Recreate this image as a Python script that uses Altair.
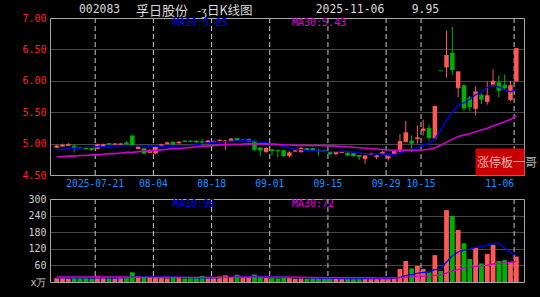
import altair as alt
import pandas as pd

# ---------------- data ----------------
opens = [4.94, 4.96, 4.97, 4.96, 4.94, 4.93, 4.92, 4.92, 4.96, 5.00,
         4.99, 4.99, 5.01, 5.12, 4.92, 4.92, 4.86, 4.85, 4.96, 5.00,
         5.02, 5.01, 5.04, 5.04, 5.04, 5.03, 5.02, 5.03, 5.05, 5.03,
         5.04, 5.08, 5.05, 5.04, 5.04, 4.93, 4.87, 4.90, 4.89, 4.89,
         4.81, 4.88, 4.87, 4.92, 4.92, 4.89, 4.89, 4.87, 4.84, 4.86,
         4.85, 4.84, 4.81, 4.76, 4.83, 4.79, 4.84, 4.77, 4.83, 4.88,
         5.03, 5.04, 5.08, 5.21, 5.24, 5.09, 6.16, 6.22, 6.44, 5.89,
         5.92, 5.73, 5.56, 5.77, 5.67, 5.92, 5.97, 5.93, 5.70, 6.00]
closes = [4.97, 4.98, 4.99, 4.93, 4.93, 4.91, 4.90, 4.99, 4.99, 4.99,
          5.00, 5.00, 4.99, 4.97, 4.95, 4.84, 4.90, 4.95, 4.99, 5.02,
          4.99, 5.03, 5.03, 5.03, 5.02, 5.02, 5.05, 5.04, 5.06, 5.05,
          5.08, 5.05, 5.06, 5.07, 4.90, 4.89, 4.93, 4.88, 4.88, 4.80,
          4.86, 4.89, 4.93, 4.90, 4.89, 4.88, 4.87, 4.83, 4.87, 4.87,
          4.81, 4.80, 4.79, 4.81, 4.85, 4.81, 4.87, 4.80, 4.88, 5.04,
          5.18, 5.00, 5.10, 5.24, 5.09, 5.60, 6.16, 6.41, 6.17, 6.15,
          5.56, 5.58, 5.83, 5.70, 5.77, 6.00, 5.84, 5.88, 5.93, 6.52]
highs = [4.98, 5.00, 5.01, 4.99, 4.95, 4.95, 4.93, 5.00, 5.00, 5.01,
         5.01, 5.01, 5.04, 5.14, 4.96, 4.93, 4.91, 4.96, 5.00, 5.03,
         5.04, 5.04, 5.05, 5.05, 5.05, 5.08, 5.06, 5.05, 5.07, 5.06,
         5.09, 5.09, 5.07, 5.08, 5.05, 4.94, 4.94, 4.91, 4.90, 4.90,
         4.88, 4.90, 4.95, 4.93, 4.93, 4.92, 4.90, 4.88, 4.88, 4.88,
         4.86, 4.85, 4.82, 4.82, 4.86, 4.82, 4.88, 4.81, 4.89, 5.15,
         5.36, 5.13, 5.29, 5.38, 5.30, 5.60, 6.16, 6.80, 6.86, 6.15,
         5.95, 5.76, 5.91, 5.80, 5.99, 6.18, 6.09, 6.10, 6.00, 6.52]
lows = [4.93, 4.95, 4.96, 4.86, 4.91, 4.90, 4.88, 4.91, 4.95, 4.97,
        4.98, 4.98, 4.98, 4.96, 4.91, 4.83, 4.85, 4.83, 4.95, 4.99,
        4.96, 5.00, 5.02, 5.02, 5.01, 4.97, 5.01, 5.02, 5.04, 4.90,
        5.03, 5.04, 5.04, 5.03, 4.88, 4.80, 4.86, 4.81, 4.78, 4.79,
        4.78, 4.87, 4.86, 4.89, 4.88, 4.81, 4.86, 4.82, 4.81, 4.85,
        4.80, 4.79, 4.74, 4.68, 4.82, 4.75, 4.82, 4.73, 4.82, 4.87,
        5.02, 4.86, 5.00, 5.13, 5.05, 5.07, 6.16, 6.05, 6.09, 5.74,
        5.52, 5.52, 5.45, 5.63, 5.62, 5.92, 5.73, 5.86, 5.68, 5.98]
volumes = [14, 15, 13, 16, 14, 15, 13, 22, 16, 14,
           13, 18, 15, 35, 22, 17, 15, 18, 14, 13,
           15, 14, 13, 14, 15, 22, 14, 18, 20, 24,
           15, 26, 14, 16, 27, 22, 15, 14, 13, 15,
           14, 12, 13, 12, 13, 14, 12, 13, 12, 11,
           13, 12, 14, 13, 12, 13, 14, 13, 15, 47,
           76, 49, 58, 47, 35, 97, 40, 260, 239, 188,
           140, 83, 125, 67, 101, 134, 76, 79, 71, 92]
ma10 = [4.90, 4.91, 4.92, 4.93, 4.93, 4.94, 4.94, 4.95, 4.95, 4.958,
        4.961, 4.963, 4.963, 4.967, 4.969, 4.962, 4.962, 4.958, 4.958, 4.961,
        4.960, 4.963, 4.967, 4.973, 4.980, 4.998, 5.013, 5.022, 5.029, 5.032,
        5.041, 5.043, 5.046, 5.050, 5.038, 5.025, 5.013, 4.997, 4.979, 4.954,
        4.932, 4.916, 4.903, 4.886, 4.885, 4.884, 4.878, 4.873, 4.872, 4.879,
        4.874, 4.865, 4.851, 4.842, 4.838, 4.831, 4.831, 4.828, 4.829, 4.846,
        4.883, 4.903, 4.934, 4.977, 5.001, 5.080, 5.209, 5.370, 5.499, 5.610,
        5.648, 5.706, 5.779, 5.825, 5.893, 5.933, 5.901, 5.848, 5.824, 5.861]
ma30 = [4.79, 4.79, 4.80, 4.80, 4.81, 4.81, 4.82, 4.82, 4.83, 4.84,
        4.84, 4.85, 4.86, 4.86, 4.87, 4.88, 4.88, 4.89, 4.90, 4.91,
        4.92, 4.92, 4.93, 4.94, 4.95, 4.96, 4.96, 4.97, 4.98, 4.984,
        4.987, 4.990, 4.992, 4.997, 4.996, 4.995, 4.996, 4.992, 4.989, 4.982,
        4.978, 4.974, 4.972, 4.970, 4.968, 4.969, 4.968, 4.964, 4.960, 4.955,
        4.949, 4.941, 4.933, 4.926, 4.920, 4.913, 4.907, 4.899, 4.893, 4.893,
        4.896, 4.895, 4.896, 4.902, 4.908, 4.932, 4.973, 5.024, 5.067, 5.112,
        5.135, 5.158, 5.188, 5.215, 5.244, 5.281, 5.314, 5.349, 5.384, 5.439]
vol_ma10 = [15, 15, 15, 15, 15, 15, 15, 15, 15, 15.2,
            15.1, 15.4, 15.6, 17.5, 18.3, 18.5, 18.7, 18.3, 18.1, 18.0,
            18.2, 17.8, 17.6, 15.5, 14.8, 15.3, 15.2, 15.2, 15.8, 16.9,
            16.9, 18.1, 18.2, 18.4, 19.6, 19.6, 19.7, 19.3, 18.6, 17.7,
            17.6, 16.2, 16.1, 15.7, 14.3, 13.5, 13.2, 13.1, 13.0, 12.6,
            12.5, 12.5, 12.6, 12.7, 12.6, 12.5, 12.7, 12.7, 13.0, 16.6,
            22.9, 26.6, 31.0, 34.4, 36.7, 45.1, 47.7, 72.4, 94.8, 108.9,
            115.3, 118.7, 125.4, 127.4, 134.0, 137.7, 141.3, 123.2, 106.4, 96.8]
vol_ma30 = [18, 18, 18, 18, 18, 18, 18, 18, 18, 18,
            18, 18, 18, 17, 17, 17, 17, 17, 17, 17,
            17, 17, 17, 17, 17, 17, 17, 17, 17, 16.7,
            16.7, 17.1, 17.1, 17.1, 17.6, 17.8, 17.9, 17.6, 17.5, 17.5,
            17.6, 17.4, 17.3, 16.5, 16.2, 16.1, 16.0, 15.9, 15.8, 15.7,
            15.7, 15.6, 15.6, 15.6, 15.5, 15.2, 15.2, 15.0, 14.9, 15.6,
            17.7, 18.4, 19.9, 20.9, 21.2, 23.7, 24.5, 32.7, 40.3, 46.0,
            50.2, 52.6, 56.3, 58.2, 61.1, 65.1, 67.2, 69.4, 71.4, 74.1]

date_labels = ["2025-07-21", "08-04", "08-18", "09-01", "09-15", "09-29", "10-15", "11-06"]
date_label_index = [7, 17, 27, 37, 47, 57, 63, 79]
price_ticks = [4.5, 5.0, 5.5, 6.0, 6.5, 7.0]
vol_ticks = [0, 60, 120, 180, 240, 300]
header = ["002083", "孚日股份", "-ʒ日K线图", "2025-11-06", "9.95"]
ma_texts = ["MA10:5.85", "MA30:5.43", "MA10:95", "MA30:72"]
watermark = "涨停板一哥"

# ---------------- styling ----------------
MONO = "DejaVu Sans Mono"
CJK = "Noto Sans CJK SC"
RED = "#FF5656"
GREEN = "#00B000"
BLUE = "#0000FF"
MAG = "#D000D0"
W, H = 474, 264
PRICE_RANGE = [157, 0]
VOL_RANGE = [264, 181]

n = len(opens)
df = pd.DataFrame({
    "i": list(range(n)), "open": opens, "close": closes, "high": highs, "low": lows,
    "vol": volumes, "ma10": ma10, "ma30": ma30, "vma10": vol_ma10, "vma30": vol_ma30,
    "dir": ["up" if c > o else "down" for o, c in zip(opens, closes)],
})

color = alt.Color("dir:N", scale=alt.Scale(domain=["up", "down"], range=[RED, GREEN]), legend=None)
xscale = alt.Scale(domain=[-0.29, 79.46], nice=False, zero=False)
X = alt.X("i:Q", scale=xscale, axis=None)

pscale = alt.Scale(domain=[4.5, 7.0], range=PRICE_RANGE, nice=False, zero=False)
paxis = alt.Axis(values=price_ticks, format=".2f", labelColor="#FF2020", labelFont=MONO,
                 labelFontSize=10, tickSize=0, labelPadding=4, domain=False, grid=True,
                 gridColor="#8C8C8C", gridDash=[1, 1], orient="left")


def PY(f):
    return alt.Y(f + ":Q", scale=pscale, axis=paxis, title=None)


vscale = alt.Scale(domain=[0, 300], range=VOL_RANGE, nice=False, zero=True)
vaxis = alt.Axis(values=vol_ticks, labelExpr="datum.value == 0 ? 'x万' : datum.label",
                 labelColor="#D0D0D0", labelFont=MONO, labelFontSize=10, tickSize=0,
                 labelPadding=4, domain=False, grid=True, gridColor="#8C8C8C",
                 gridDash=[1, 1], orient="left")


def VY(f):
    return alt.Y(f + ":Q", scale=vscale, axis=vaxis, title=None)


base = alt.Chart(df)
wick = base.mark_rule(strokeWidth=1).encode(x=X, y=PY("low"), y2="high", color=color)
body = base.mark_bar(size=4.5).encode(x=X, y=PY("open"), y2="close", color=color)
flat = base.mark_tick(thickness=1.2, size=4.5, orient="horizontal").encode(x=X, y=PY("open"), color=color)
l10 = base.mark_line(color=BLUE, strokeWidth=1.3).encode(x=X, y=PY("ma10"))
l30 = base.mark_line(color=MAG, strokeWidth=1.6).encode(x=X, y=PY("ma30"))
price = alt.layer(wick, body, flat, l10, l30)

vbar = base.mark_bar(size=4.8).encode(x=X, y=VY("vol"), y2=alt.datum(0), color=color)
v10 = base.mark_line(color=BLUE, strokeWidth=1.3).encode(x=X, y=VY("vma10"))
v30 = base.mark_line(color=MAG, strokeWidth=1.3).encode(x=X, y=VY("vma30"))
volume = alt.layer(vbar, v10, v30)

# vertical dashed date grid lines (just left of each labelled candle)
grid_df = pd.DataFrame({"g": [k - 0.38 for k in date_label_index], "label": date_labels})
GX = alt.X("g:Q", scale=xscale, axis=None)
gchart = alt.Chart(grid_df)
vg_price = gchart.mark_rule(color="#C8C8C8", strokeDash=[5, 3], strokeWidth=1).encode(
    x=GX, y=alt.value(PRICE_RANGE[1]), y2=alt.value(PRICE_RANGE[0]))
vg_vol = gchart.mark_rule(color="#C8C8C8", strokeDash=[5, 3], strokeWidth=1).encode(
    x=GX, y=alt.value(VOL_RANGE[1]), y2=alt.value(VOL_RANGE[0]))

dates_c = alt.Chart(grid_df.iloc[:-1]).mark_text(
    font=MONO, fontSize=9.6, color="#1E90FF", align="center", baseline="middle").encode(
    x=GX, y=alt.value(166), text="label:N")
dates_r = alt.Chart(grid_df.iloc[-1:]).mark_text(
    font=MONO, fontSize=9.6, color="#1E90FF", align="right", baseline="middle").encode(
    x=GX, y=alt.value(166), text="label:N")

one = pd.DataFrame({"a": [0]})


def box(y0, y1):
    return alt.Chart(one).mark_rect(filled=False, stroke="#A8A8A8", strokeWidth=1).encode(
        x=alt.value(0.5), x2=alt.value(W + 0.5), y=alt.value(y0 + 0.5), y2=alt.value(y1 + 0.5))


def label(txt, x, y, col, font, size, align="left", opacity=1.0):
    return alt.Chart(one).mark_text(text=txt, align=align, baseline="middle", font=font,
                                    fontSize=size, color=col, opacity=opacity).encode(
        x=alt.value(x), y=alt.value(y))


HEAD = "#D8D8D8"
texts = [
    label(header[0], 29, -8, HEAD, MONO, 11.4),
    label(header[1], 86, -7.5, HEAD, CJK, 13),
    label(header[2], 147, -7.5, HEAD, CJK, 12.5),
    label(header[3], 265.7, -8, HEAD, MONO, 11.4),
    label(header[4], 361.7, -8, HEAD, MONO, 11.4),
    label(ma_texts[0], 123, 5.3, BLUE, MONO, 10),
    label(ma_texts[1], 242, 5.3, "#E000E0", MONO, 10),
    label(ma_texts[2], 123, 186.3, BLUE, MONO, 10),
    label(ma_texts[3], 242, 186.3, "#E000E0", MONO, 10),
]

wm_box = alt.Chart(one).mark_rect(fill="#C80000", stroke="#E00000", strokeWidth=1).encode(
    x=alt.value(426), x2=alt.value(W), y=alt.value(131), y2=alt.value(157))
wm_text = label(watermark, 427, 145.3, "#FFFFFF", CJK, 12, opacity=0.68)

chart = alt.layer(
    vg_price, vg_vol, price, volume, box(0, 157), box(181, 264),
    wm_box, wm_text, dates_c, dates_r, *texts
).resolve_scale(y="independent").properties(
    width=W, height=H,
    autosize=alt.AutoSizeParams(type="none"),
    padding={"left": 50, "top": 18, "right": 16, "bottom": 15},
    background="#000000",
).configure_view(stroke="transparent")

chart.save("out.html", embed_options={"renderer": "svg", "actions": False})
